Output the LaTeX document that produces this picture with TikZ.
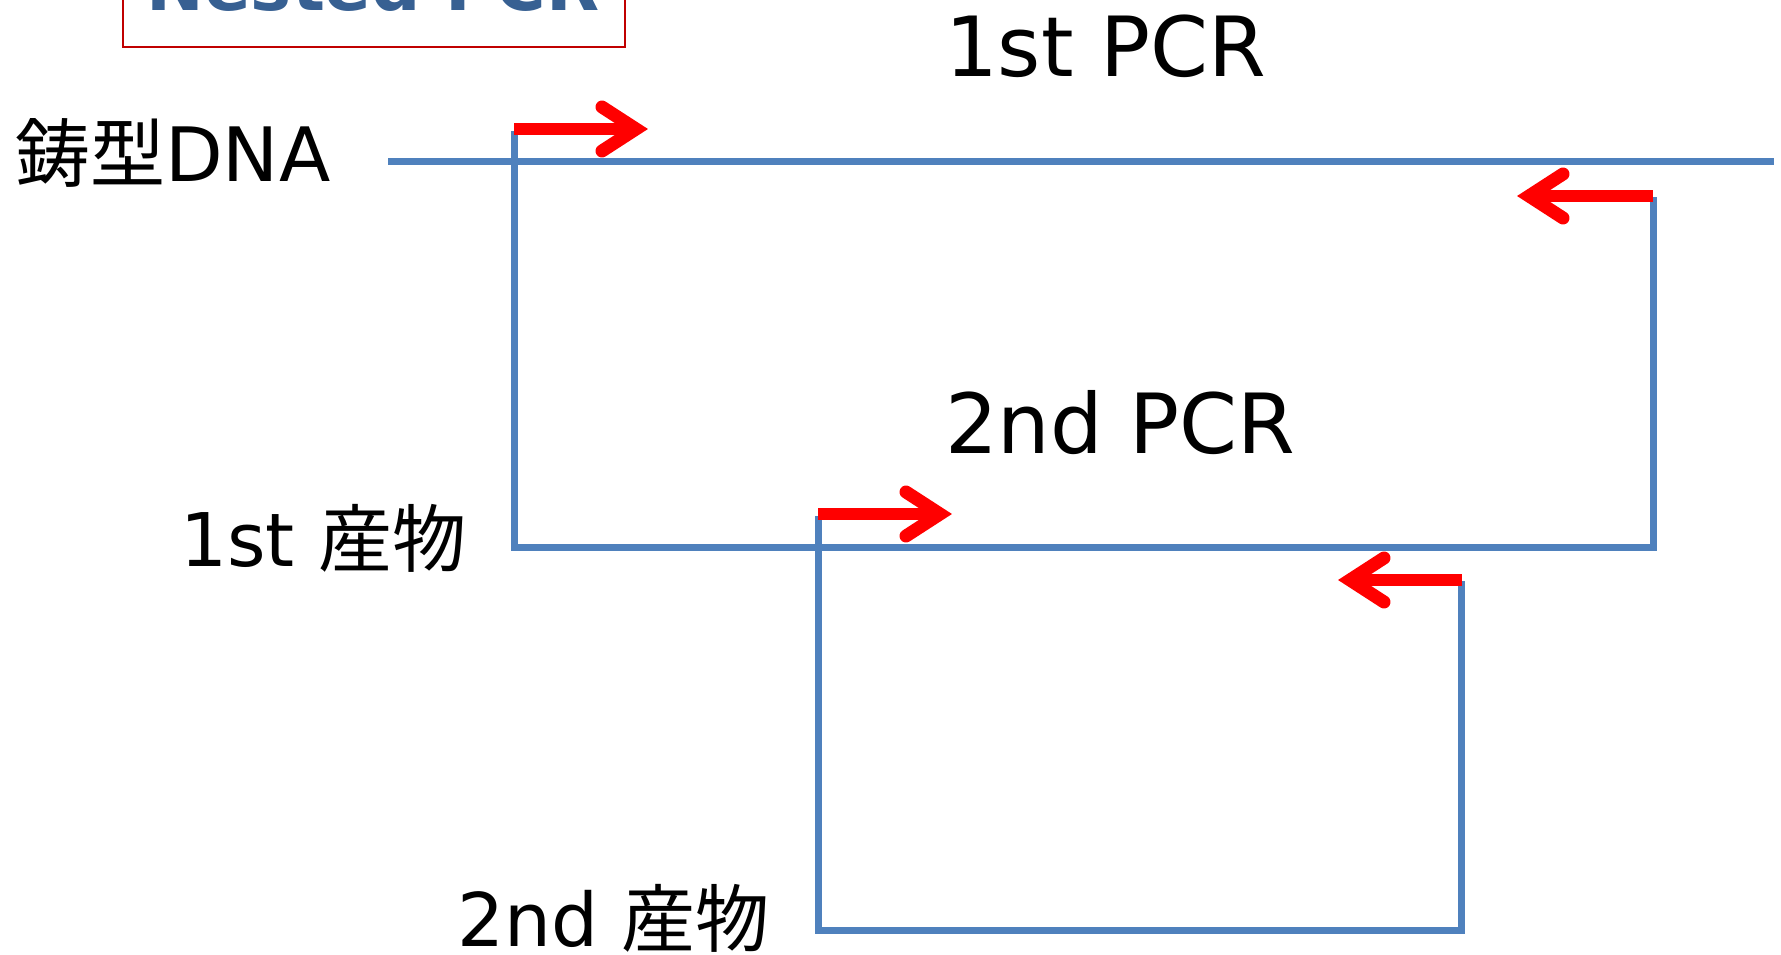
\documentclass[tikz,border=0pt]{standalone}
\usepackage{fontspec}
\setmainfont{DejaVu Sans}
\newfontfamily\jp{Noto Sans CJK JP}
\usetikzlibrary{calc}
\definecolor{strand}{RGB}{79,129,189}
\definecolor{titleblue}{RGB}{55,96,146}
\definecolor{boxred}{RGB}{192,0,0}
\tikzset{
  strandline/.style={draw=strand,line width=7pt},
  shaft/.style={draw=red,line width=12pt},
  chev/.style={draw=red,line width=13pt,line cap=round,line join=miter},
  lab/.style={inner sep=0pt,anchor=base west,text=black},
}
\begin{document}
\begin{tikzpicture}[x=1pt,y=-1pt]
\useasboundingbox (0,0) rectangle (1781,955);
% title
\draw[boxred,line width=2pt] (123,-80) rectangle (625,47);
\node[inner sep=0pt,anchor=base,text=titleblue,font=\bfseries\fontsize{69}{69}\selectfont] (title) at (373,11) {Nested PCR};
% labels
\node[lab,font=\fontsize{83}{83}\selectfont] (pcr1) at (945,77) {1st PCR};
\node[lab,font=\fontsize{83}{83}\selectfont] (pcr2) at (945,453) {2nd PCR};
\node[lab,font=\fontsize{75}{75}\selectfont] (tmpl) at (15,182) {{\jp 鋳型}DNA};
\node[lab,font=\fontsize{74}{74}\selectfont] (prod1) at (180,566) {1st {\jp 産物}};
\node[lab,font=\fontsize{74}{74}\selectfont] (prod2) at (457,946) {2nd {\jp 産物}};
% strands
\coordinate (d1) at (388,162);
\coordinate (d2) at (1774,162);
\draw[strandline] (d1) -- (d2);
\coordinate (a1) at (514,131);
\coordinate (a2) at (514,547);
\coordinate (a3) at (1653,547);
\coordinate (a4) at (1653,197);
\draw[strandline] (a1) -- (a2) -- (a3) -- (a4);
\coordinate (b1) at (818,516);
\coordinate (b2) at (818,930);
\coordinate (b3) at (1461,930);
\coordinate (b4) at (1461,581);
\draw[strandline] (b1) -- (b2) -- (b3) -- (b4);
% primers
\coordinate (f1s) at (514,129);
\coordinate (f1t) at (636,129);
\draw[shaft] (f1s) -- (f1t);
\draw[chev] ($(f1t)+(-34,-22)$) -- (f1t) -- ($(f1t)+(-34,22)$);
\coordinate (r1s) at (1653,196);
\coordinate (r1t) at (1529,196);
\draw[shaft] (r1s) -- (r1t);
\draw[chev] ($(r1t)+(34,-22)$) -- (r1t) -- ($(r1t)+(34,22)$);
\coordinate (f2s) at (818,514);
\coordinate (f2t) at (940,514);
\draw[shaft] (f2s) -- (f2t);
\draw[chev] ($(f2t)+(-34,-22)$) -- (f2t) -- ($(f2t)+(-34,22)$);
\coordinate (r2s) at (1462,580);
\coordinate (r2t) at (1350,580);
\draw[shaft] (r2s) -- (r2t);
\draw[chev] ($(r2t)+(34,-22)$) -- (r2t) -- ($(r2t)+(34,22)$);
\end{tikzpicture}
\end{document}
